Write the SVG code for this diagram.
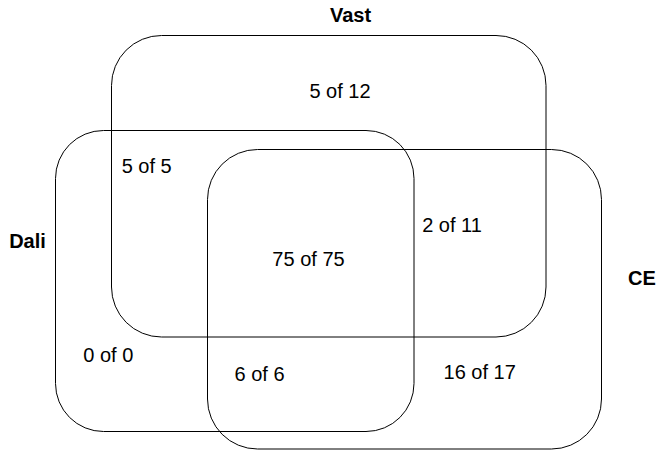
<svg xmlns="http://www.w3.org/2000/svg" width="660" height="450" viewBox="0 0 660 450">
<style>
.set{fill:none;stroke:#000;stroke-width:1}
.lbl{font-family:"Liberation Sans",Arial,sans-serif;font-size:20px;font-weight:bold;fill:#000;text-anchor:middle}
.cnt{font-family:"Liberation Sans",Arial,sans-serif;font-size:20px;fill:#000;text-anchor:middle}
</style>
<rect width="660" height="450" fill="#fff"/>
<g id="vast">
<rect class="set" x="111.5" y="35.5" width="434.5" height="301.5" rx="50" ry="50"/>
<text class="lbl" x="350.5" y="22">Vast</text>
</g>
<g id="dali">
<rect class="set" x="55.5" y="130.5" width="358.5" height="301" rx="48" ry="48"/>
<text class="lbl" x="27.5" y="247.5">Dali</text>
</g>
<g id="ce">
<rect class="set" x="207.5" y="149.5" width="394" height="299.5" rx="50" ry="50"/>
<text class="lbl" x="642" y="285">CE</text>
</g>
<g id="counts">
<text class="cnt" x="340" y="97.5">5 of 12</text>
<text class="cnt" x="146.7" y="173.3">5 of 5</text>
<text class="cnt" x="452" y="231.5">2 of 11</text>
<text class="cnt" x="308.5" y="266">75 of 75</text>
<text class="cnt" x="108.3" y="361.7">0 of 0</text>
<text class="cnt" x="259.5" y="381">6 of 6</text>
<text class="cnt" x="479.7" y="379.3">16 of 17</text>
</g>
<g id="connectors"></g>
</svg>
